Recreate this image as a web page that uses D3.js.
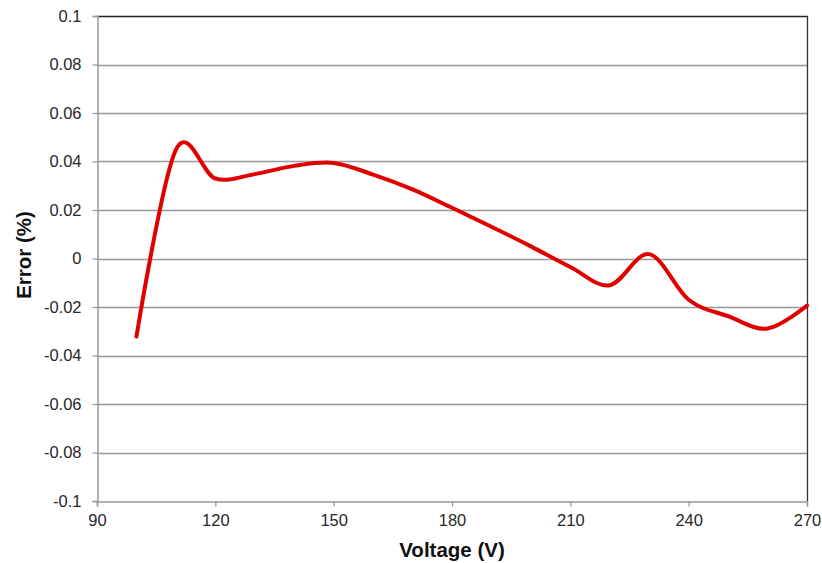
<!DOCTYPE html>
<html><head><meta charset="utf-8">
<script src="https://cdn.jsdelivr.net/npm/d3@7"></script>
<style>body{margin:0;background:#fff}svg{display:block}</style>
</head><body><svg id="c" width="822" height="563"></svg>
<script>
const voltages = [100,110,120,130,140,150,160,170,180,190,200,210,220,230,240,250,260,270];
const errors = [-0.0322,0.0448,0.0330,0.0348,0.0382,0.0394,0.0346,0.0285,0.0209,0.0131,0.0050,-0.0035,-0.0110,0.0018,-0.0170,-0.0238,-0.0289,-0.0194];
const xTicks = [90,120,150,180,210,240,270];
const yTicks = [-0.1,-0.08,-0.06,-0.04,-0.02,0,0.02,0.04,0.06,0.08,0.1];
const yLabels = ["-0.1","-0.08","-0.06","-0.04","-0.02","0","0.02","0.04","0.06","0.08","0.1"];

const svg = d3.select("#c");
const L=97,R=807,T=16,B=501;
const x = d3.scaleLinear().domain([90,270]).range([L,R]);
const y = d3.scaleLinear().domain([-0.1,0.1]).range([B,T]);
const font = "'Liberation Sans', Arial, sans-serif";

// gridlines
svg.append("g").selectAll("line").data(yTicks.filter(v=>v>-0.1 && v<0.1)).join("line")
  .attr("x1",L).attr("x2",R).attr("y1",d=>Math.round(y(d))+0.5).attr("y2",d=>Math.round(y(d))+0.5)
  .attr("stroke","#999").attr("stroke-width",1.3);
// top and right border
svg.append("line").attr("x1",L).attr("x2",R+0.5).attr("y1",T+0.5).attr("y2",T+0.5).attr("stroke","#222").attr("stroke-width",1.3);
svg.append("line").attr("x1",R+0.5).attr("x2",R+0.5).attr("y1",T).attr("y2",B).attr("stroke","#333").attr("stroke-width",1.3);

// y axis
const ya = svg.append("g").attr("transform",`translate(${L+0.5},0)`)
  .call(d3.axisLeft(y).tickValues(yTicks).tickFormat((d,i)=>yLabels[i]).tickSize(5).tickPadding(11));
// x axis
const xa = svg.append("g").attr("transform",`translate(0,${B+0.5})`)
  .call(d3.axisBottom(x).tickValues(xTicks).tickFormat(d3.format("d")).tickSize(5).tickPadding(8));
[ya,xa].forEach(g=>{
  g.select(".domain").attr("stroke","#999").attr("stroke-width",1.5);
  g.selectAll(".tick line").attr("stroke","#999").attr("stroke-width",1.3);
  g.selectAll("text").attr("font-family",font).attr("font-size",16.5).attr("fill","#282828");
});

// line
const data = voltages.map((v,i)=>[v,errors[i]]);
svg.append("path").datum(data)
  .attr("d",d3.line().x(d=>x(d[0])).y(d=>y(d[1])).curve(d3.curveCatmullRom.alpha(0)))
  .attr("fill","none").attr("stroke","#E00000").attr("stroke-width",4).attr("stroke-linejoin","round").attr("stroke-linecap","round");

// titles
svg.append("text").attr("x",452).attr("y",557).attr("text-anchor","middle")
  .attr("font-family",font).attr("font-size",20.5).attr("font-weight","bold").attr("fill","#111").text("Voltage (V)");
svg.append("text").attr("transform","translate(31,255) rotate(-90)").attr("text-anchor","middle")
  .attr("font-family",font).attr("font-size",20.5).attr("font-weight","bold").attr("fill","#111").text("Error (%)");
</script></body></html>
